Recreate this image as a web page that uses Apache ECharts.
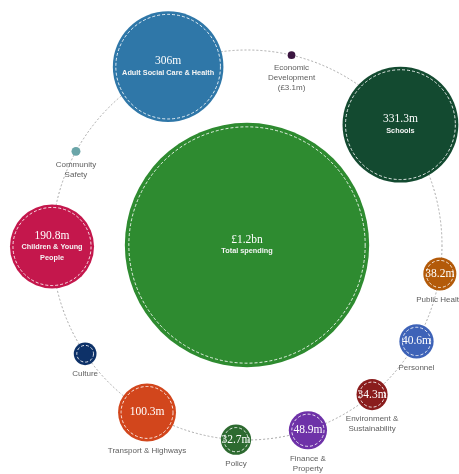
<!DOCTYPE html>
<html>
<head>
<meta charset="utf-8">
<script src="https://cdn.jsdelivr.net/npm/echarts@6/dist/echarts.min.js"></script>
<style>
  html, body { margin: 0; padding: 0; background: #ffffff; }
  #chart { width: 459px; height: 474px; }
</style>
</head>
<body>
<div id="chart"></div>
<script>
// Council spending by directorate, £m, in ring order (clockwise from Adult Social Care)
const directorates = [
  'Adult Social Care & Health', 'Economic Development', 'Schools', 'Public Health',
  'Personnel', 'Environment & Sustainability', 'Finance & Property', 'Policy',
  'Transport & Highways', 'Culture', 'Children & Young People', 'Community Safety'
];
const spendMillions = [306, 3.1, 331.3, 38.2, 40.6, 34.3, 48.9, 32.7, 100.3, 20, 190.8, 4];
const valueText = ['306m', '£3.1m', '331.3m', '38.2m', '40.6m', '34.3m', '48.9m', '32.7m', '100.3m', '', '190.8m', ''];
const directorateColours = [
  '#2f77a8', '#3b1540', '#134a30', '#b35a09', '#3e63b8', '#8a1c1c',
  '#6e32a8', '#2d6a30', '#d2461c', '#0d3168', '#c4174c', '#6aa5a8'
];
const totalSpend = 1200;
const totalText = '£1.2bn';
const totalName = 'Total spending';
const totalColour = '#2e8b30';

// How each directorate is captioned: inside the bubble, or underneath it
const captionInside = [true, false, true, false, false, false, false, false, false, false, true, false];
const captionLines = {
  'Economic Development': 'Economic\nDevelopment\n(£3.1m)',
  'Community Safety': 'Community\nSafety',
  'Children & Young People': 'Children & Young\nPeople',
  'Environment & Sustainability': 'Environment &\nSustainability',
  'Finance & Property': 'Finance &\nProperty'
};

// Bubble radius grows with spend (power scale)
const bubbleRadius = v => 2.0 * Math.pow(v, 0.58);
// Each bubble takes a share of the ring proportional to its radius
const ringStart = 301.5;
const radii = spendMillions.map(bubbleRadius);
const radiusSum = radii.reduce((a, b) => a + b, 0);
let run = 0;
const ringAngle = radii.map(r => {
  const a = (ringStart + (run + r) * 360 / (2 * radiusSum)) % 360;
  run += 2 * r;
  return a;
});

const valueFont = 'Liberation Serif';
const sansFont = 'Liberation Sans';

const bubbles = directorates.map((name, i) => {
  const inside = captionInside[i];
  const label = inside
    ? { show: true, position: 'inside', formatter: '{v|' + valueText[i] + '}\n{n|' + (captionLines[name] || name).split('\n').join('}\n{n|') + '}' }
    : { show: valueText[i] !== '' && name !== 'Economic Development', position: 'inside', formatter: '{v|' + valueText[i] + '}' };
  return {
    name,
    value: [1, ringAngle[i]],
    symbolSize: 2 * radii[i],
    itemStyle: { color: directorateColours[i], opacity: 1 },
    label
  };
});
bubbles.push({
  name: totalName,
  value: [0, 0],
  symbolSize: 2 * bubbleRadius(totalSpend),
  itemStyle: { color: totalColour, opacity: 1 },
  label: { show: true, position: 'inside', formatter: '{v|' + totalText + '}\n{n|' + totalName + '}' }
});

// Dashed white inner ring on each bubble big enough to carry it
const rings = bubbles.filter(b => b.symbolSize > 14).map(b => ({
  name: b.name,
  value: b.value,
  symbolSize: b.symbolSize - (b.symbolSize > 150 ? 8 : 6)
}));

// Captions below the smaller bubbles
const captions = directorates.map((name, i) => ({
  name,
  value: [1, ringAngle[i]],
  symbolSize: 2 * radii[i],
  label: {
    show: !captionInside[i],
    formatter: captionLines[name] || name
  }
}));

const chart = echarts.init(document.getElementById('chart'), null, { renderer: 'canvas' });
chart.setOption({
  animation: false,
  backgroundColor: '#ffffff',
  polar: { center: [247, 245], radius: 195 },
  angleAxis: {
    type: 'value', min: 0, max: 360, startAngle: 90, clockwise: true,
    axisLine: { show: true, lineStyle: { color: '#aaaaaa', width: 1, type: [2, 2] } },
    axisTick: { show: false }, axisLabel: { show: false },
    splitLine: { show: false }, splitArea: { show: false }
  },
  radiusAxis: {
    type: 'value', min: 0, max: 1,
    axisLine: { show: false }, axisTick: { show: false }, axisLabel: { show: false },
    splitLine: { show: false }, splitArea: { show: false }
  },
  series: [
    {
      type: 'scatter', coordinateSystem: 'polar', symbol: 'circle',
      data: bubbles, z: 2, silent: true,
      emphasis: { disabled: true },
      itemStyle: { opacity: 1 },
      label: {
        color: '#ffffff',
        rich: {
          v: { fontFamily: valueFont, fontSize: 11.5, color: '#ffffff', lineHeight: 12 },
          n: { fontFamily: sansFont, fontSize: 7.3, fontWeight: 'bold', color: '#f4f4f4', lineHeight: 10.5 }
        }
      }
    },
    {
      type: 'scatter', coordinateSystem: 'polar', symbol: 'circle',
      data: rings, z: 3, silent: true,
      emphasis: { disabled: true },
      itemStyle: { color: 'rgba(0,0,0,0)', opacity: 1, borderColor: 'rgba(255,255,255,0.85)', borderWidth: 1, borderType: [3, 2] }
    },
    {
      type: 'scatter', coordinateSystem: 'polar', symbol: 'circle',
      data: captions, z: 4, silent: true,
      emphasis: { disabled: true },
      itemStyle: { color: 'rgba(0,0,0,0)' },
      label: {
        position: 'bottom', distance: 4,
        fontFamily: sansFont, fontSize: 8, color: '#333333', lineHeight: 10, align: 'center'
      }
    }
  ]
});
</script>
</body>
</html>
